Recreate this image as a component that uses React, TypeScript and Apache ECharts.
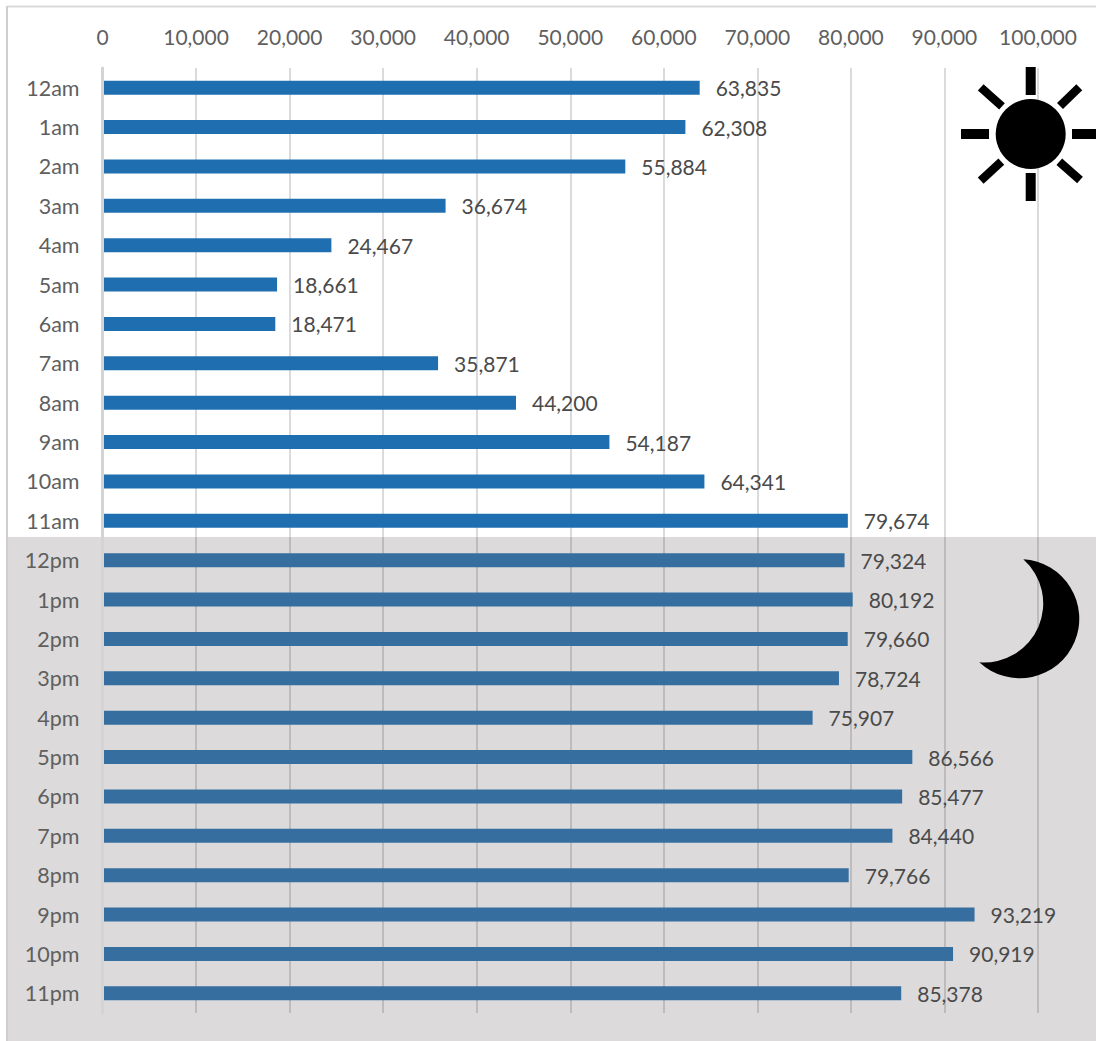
import React, { useEffect, useRef } from "react";
import * as echarts from "echarts";

const hours = ["12am","1am","2am","3am","4am","5am","6am","7am","8am","9am","10am","11am","12pm","1pm","2pm","3pm","4pm","5pm","6pm","7pm","8pm","9pm","10pm","11pm"];
const counts = [63835,62308,55884,36674,24467,18661,18471,35871,44200,54187,64341,79674,79324,80192,79660,78724,75907,86566,85477,84440,79766,93219,90919,85378];
const dayColor = "#1F6FB0";
const nightColor = "#366F9F";
const FONT = "Lato";

echarts.graphic.registerShape(
  "moon",
  echarts.graphic.extendPath("M1023.3 559.3 A59.5 59.5 0 1 1 979.3 662.3 A59 59 0 0 0 1023.3 559.3 Z", {})
);

const ray = (x1: number, y1: number, x2: number, y2: number, w: number) => ({
  type: "line",
  z: 20,
  shape: { x1, y1, x2, y2 },
  style: { stroke: "#000", lineWidth: w },
  silent: true,
});

export default function App() {
  const ref = useRef<HTMLDivElement>(null);
  useEffect(() => {
    document.body.style.margin = "0";
    const chart = echarts.init(ref.current!, null, { renderer: "svg" });
    chart.setOption({
      animation: false,
      backgroundColor: "#fff",
      textStyle: { fontFamily: FONT },
      grid: { left: 102.5, right: 58, top: 68, bottom: 28, containLabel: false },
      xAxis: {
        type: "value",
        position: "top",
        min: 0,
        max: 100000,
        interval: 10000,
        axisLine: { show: false },
        axisTick: { show: false },
        axisLabel: {
          color: "#5f5f5f",
          fontFamily: FONT,
          fontSize: 21,
          margin: 21,
          formatter: (v: number) => v.toLocaleString("en-US"),
        },
        splitLine: { show: true, lineStyle: { color: "rgba(0,0,0,0.14)", width: 2 } },
      },
      yAxis: {
        type: "category",
        inverse: true,
        data: hours,
        z: 5,
        axisLine: { show: true, lineStyle: { color: "#d4d4d4", width: 3 } },
        axisTick: { show: false },
        axisLabel: { color: "#5f5f5f", fontFamily: FONT, fontSize: 21.5, margin: 23, padding: [0, 0, 3, 0] },
      },
      series: [
        {
          type: "bar",
          barWidth: 14,
          data: counts.map((v, i) => ({
            value: v,
            itemStyle: { color: i < 12 ? dayColor : nightColor },
          })),
          label: {
            show: true,
            position: "right",
            distance: 16,
            color: "#4a4a4a",
            fontFamily: FONT,
            fontSize: 21,
            formatter: (p: any) => Number(p.value).toLocaleString("en-US"),
          },
        },
      ],
      graphic: [
        { type: "rect", z: -10, shape: { x: 7, y: 537, width: 1089, height: 504 }, style: { fill: "#DCDADB" }, silent: true },
        { type: "line", z: -9, shape: { x1: 7, y1: 6.5, x2: 1096, y2: 6.5 }, style: { stroke: "#D9D9D9", lineWidth: 2 }, silent: true },
        { type: "line", z: -9, shape: { x1: 7, y1: 6, x2: 7, y2: 1041 }, style: { stroke: "#CFCFCF", lineWidth: 2 }, silent: true },
        { type: "circle", z: 20, shape: { cx: 1030.7, cy: 134, r: 35 }, style: { fill: "#000" }, silent: true },
        ray(1030.7, 67, 1030.7, 95, 10),
        ray(1030.7, 173, 1030.7, 201, 10),
        ray(961, 134, 989, 134, 10),
        ray(1072, 134, 1096, 134, 10),
        ray(980.7, 87.3, 1002, 106.3, 8.5),
        ray(1079.3, 87.3, 1060, 106, 8.5),
        ray(980.7, 180.7, 1001.3, 161.7, 8.5),
        ray(1080, 180, 1059.3, 161.7, 8.5),
        { type: "moon", z: 20, x: 0, y: 0, style: { fill: "#000" }, silent: true },
      ],
    });
    return () => chart.dispose();
  }, []);
  return <div ref={ref} style={{ width: 1096, height: 1041 }} />;
}
